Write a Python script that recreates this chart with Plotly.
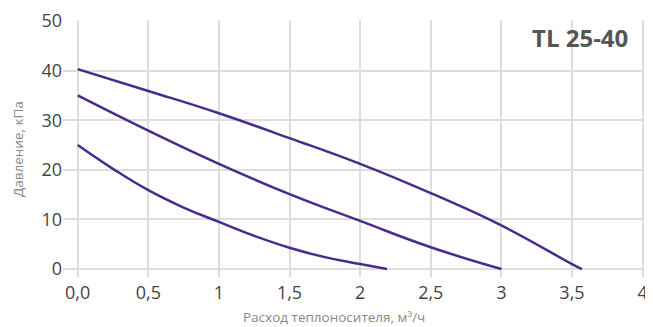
import plotly.graph_objects as go

flow_top = [0, 0.5, 1.0, 1.5, 2.0, 2.5, 3.0, 3.5, 3.57]
head_top = [40.3, 35.9, 31.4, 26.4, 21.2, 15.3, 8.8, 1.0, 0]
flow_mid = [0, 0.5, 1.0, 1.5, 2.0, 2.5, 3.0]
head_mid = [35.0, 27.9, 21.2, 15.1, 9.7, 4.4, 0]
flow_low = [0, 0.25, 0.5, 0.75, 1.0, 1.25, 1.5, 1.75, 2.0, 2.19]
head_low = [25.0, 20.2, 15.9, 12.4, 9.5, 6.7, 4.3, 2.4, 1.0, 0]

x_tickvals = [0, 0.5, 1, 1.5, 2, 2.5, 3, 3.5, 4]
x_ticktext = ["0,0", "0,5", "1", "1,5", "2", "2,5", "3", "3,5", "4"]
y_tickvals = [0, 10, 20, 30, 40, 50]

line_color = "#4a2b8c"
font_family = "'Open Sans', Lato, sans-serif"

fig = go.Figure()
for xs, ys in [(flow_top, head_top), (flow_mid, head_mid), (flow_low, head_low)]:
    fig.add_trace(go.Scatter(x=xs, y=ys, mode="lines",
                             line=dict(color=line_color, width=2.5, shape="spline", smoothing=1.3),
                             showlegend=False, hoverinfo="skip"))

# page body has an 8px default margin; figure is sized so the plot area lands where the reference has it
fig.update_layout(
    width=645, height=319,
    margin=dict(l=55, r=9, t=12, b=50),
    paper_bgcolor="white", plot_bgcolor="white",
    font=dict(family=font_family),
    xaxis=dict(range=[-0.104, 4.01], tickvals=x_tickvals, ticktext=x_ticktext,
               showgrid=True, gridcolor="#dddddd", gridwidth=1.5, zeroline=False,
               showline=False, ticks="", automargin=False, ticklabelstandoff=3,
               tickfont=dict(size=18, color="#444444")),
    yaxis=dict(range=[-1.6, 50.2], tickvals=y_tickvals,
               showgrid=True, gridcolor="#dddddd", gridwidth=1.5, zeroline=False,
               showline=False, ticks="", automargin=False,
               tickfont=dict(size=18, color="#444444")),
    annotations=[
        dict(text="<b>TL 25-40</b>", xref="paper", yref="paper", x=0.976, y=0.93,
             xanchor="right", yanchor="middle", showarrow=False,
             font=dict(size=24, color="#555555", family=font_family)),
        dict(text="Расход теплоносителя, м³/ч", xref="paper", yref="paper", x=0.466, y=-0.1545,
             xanchor="center", yanchor="middle", showarrow=False,
             font=dict(size=13.5, color="#888888", family=font_family)),
        dict(text="Давление, кПа", xref="paper", yref="paper", x=-0.0775, y=0.498,
             xanchor="center", yanchor="middle", showarrow=False, textangle=-90,
             font=dict(size=13.5, color="#888888", family=font_family)),
    ],
)

fig.write_html("out.html")
